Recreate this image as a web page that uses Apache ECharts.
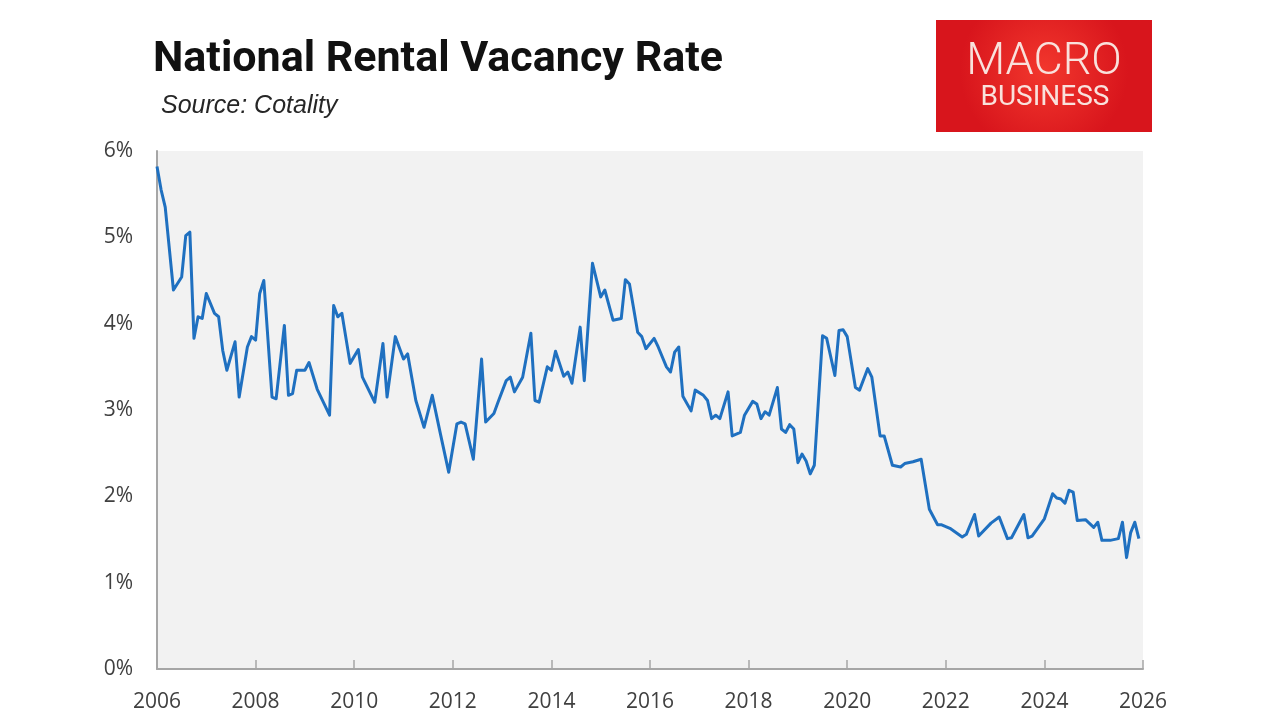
<!DOCTYPE html>
<html>
<head>
<meta charset="utf-8">
<title>National Rental Vacancy Rate</title>
<script src="https://cdn.jsdelivr.net/npm/echarts@6/dist/echarts.min.js"></script>
<style>
  html, body { margin: 0; padding: 0; background: #fff; }
  #chart { width: 1280px; height: 721px; }
</style>
</head>
<body>
<div id="chart"></div>
<script>
// monthly readings (only the turning points of the line)
const months = [
  '2006-01', '2006-02', '2006-03', '2006-05', '2006-07', '2006-08', '2006-09', '2006-10', '2006-11', '2006-12',
  '2007-01', '2007-03', '2007-04', '2007-05', '2007-06', '2007-08', '2007-09', '2007-11', '2007-12',
  '2008-01', '2008-02', '2008-03', '2008-05', '2008-06', '2008-08', '2008-09', '2008-10', '2008-11',
  '2009-01', '2009-02', '2009-04', '2009-07', '2009-08', '2009-09', '2009-10', '2009-12',
  '2010-02', '2010-03', '2010-06', '2010-08', '2010-09', '2010-11',
  '2011-01', '2011-02', '2011-04', '2011-06', '2011-08', '2011-10', '2011-12',
  '2012-02', '2012-03', '2012-04', '2012-06', '2012-08', '2012-09', '2012-11', '2012-12',
  '2013-02', '2013-03', '2013-04', '2013-06', '2013-08', '2013-09', '2013-10', '2013-12',
  '2014-01', '2014-02', '2014-04', '2014-05', '2014-06', '2014-08', '2014-09', '2014-11',
  '2015-01', '2015-02', '2015-04', '2015-06', '2015-07', '2015-08', '2015-10', '2015-11', '2015-12',
  '2016-02', '2016-03', '2016-05', '2016-06', '2016-07', '2016-08', '2016-09', '2016-11', '2016-12',
  '2017-02', '2017-03', '2017-04', '2017-05', '2017-06', '2017-08', '2017-09', '2017-11', '2017-12',
  '2018-02', '2018-03', '2018-04', '2018-05', '2018-06', '2018-08', '2018-09', '2018-10', '2018-11', '2018-12',
  '2019-01', '2019-02', '2019-03', '2019-04', '2019-05', '2019-07', '2019-08', '2019-10', '2019-11', '2019-12',
  '2020-01', '2020-03', '2020-04', '2020-06', '2020-07', '2020-09', '2020-10', '2020-12',
  '2021-02', '2021-03', '2021-05', '2021-07', '2021-09', '2021-11', '2021-12',
  '2022-02', '2022-05', '2022-06', '2022-08', '2022-09', '2022-12',
  '2023-02', '2023-04', '2023-05', '2023-08', '2023-09', '2023-10',
  '2024-01', '2024-03', '2024-04', '2024-05', '2024-06', '2024-07', '2024-08', '2024-09', '2024-11',
  '2025-01', '2025-02', '2025-03', '2025-05', '2025-07', '2025-08', '2025-09', '2025-10', '2025-11', '2025-12'
]

const vacancyRate = [
  5.82, 5.55, 5.35, 4.39, 4.54, 5.02, 5.06, 3.83, 4.08, 4.06,
  4.35, 4.12, 4.08, 3.69, 3.46, 3.79, 3.15, 3.73, 3.85,
  3.81, 4.35, 4.50, 3.15, 3.13, 3.98, 3.17, 3.19, 3.46,
  3.46, 3.55, 3.24, 2.94, 4.21, 4.08, 4.12, 3.54,
  3.70, 3.38, 3.09, 3.77, 3.15, 3.85,
  3.59, 3.65, 3.11, 2.80, 3.17, 2.72, 2.28,
  2.84, 2.86, 2.84, 2.43, 3.59, 2.86, 2.96, 3.09,
  3.34, 3.38, 3.21, 3.38, 3.89, 3.11, 3.09, 3.50,
  3.46, 3.68, 3.39, 3.44, 3.31, 3.96, 3.34, 4.70,
  4.31, 4.39, 4.04, 4.06, 4.51, 4.46, 3.90, 3.85, 3.71,
  3.83, 3.73, 3.50, 3.44, 3.67, 3.73, 3.16, 2.99, 3.23,
  3.17, 3.11, 2.90, 2.94, 2.90, 3.21, 2.70, 2.74, 2.94,
  3.10, 3.07, 2.90, 2.98, 2.94, 3.26, 2.78, 2.74, 2.83, 2.78,
  2.39, 2.49, 2.41, 2.26, 2.36, 3.86, 3.83, 3.40, 3.92, 3.93,
  3.85, 3.26, 3.23, 3.48, 3.38, 2.70, 2.70, 2.36,
  2.34, 2.38, 2.40, 2.43, 1.85, 1.67, 1.67,
  1.63, 1.53, 1.56, 1.79, 1.54, 1.69,
  1.76, 1.51, 1.52, 1.79, 1.52, 1.54,
  1.74, 2.03, 1.98, 1.97, 1.92, 2.07, 2.05, 1.72, 1.73,
  1.64, 1.70, 1.49, 1.49, 1.51, 1.70, 1.29, 1.58, 1.70, 1.51
]

const yearTicks = [2006, 2008, 2010, 2012, 2014, 2016, 2018, 2020, 2022, 2024, 2026]

// 'YYYY-MM' -> decimal year, so the value axis can put a tick every 2 years
function toYear (m) {
  const parts = m.split('-')
  return Number(parts[0]) + (Number(parts[1]) - 1) / 12
}

const seriesData = months.map(function (m, i) {
  return [toYear(m), vacancyRate[i]]
})

const axisGrey = '#a6a6a6'
const labelFont = { color: '#404040', fontSize: 21, fontFamily: 'Open Sans' }

const chart = echarts.init(document.getElementById('chart'), null, { renderer: 'canvas' })

const option = {
  backgroundColor: '#ffffff',
  animation: false,
  title: [
    {
      text: 'National Rental Vacancy Rate',
      left: 148,
      top: 34,
      textStyle: { fontFamily: 'Roboto', fontWeight: 'bold', fontSize: 43, color: '#111111' }
    },
    {
      text: 'Source: Cotality',
      left: 156,
      top: 89,
      textStyle: { fontFamily: 'Liberation Sans', fontStyle: 'italic', fontWeight: 'normal', fontSize: 25, color: '#262626' }
    }
  ],
  graphic: [
    {
      type: 'rect',
      left: 936,
      top: 20,
      shape: { width: 216, height: 112 },
      style: {
        fill: new echarts.graphic.RadialGradient(0.5, 0.45, 0.75, [
          { offset: 0, color: '#f2372d' },
          { offset: 1, color: '#d8151c' }
        ])
      }
    },
    {
      type: 'text',
      x: 1044,
      y: 63,
      style: {
        text: 'MACRO',
        fill: '#f9e1dc',
        font: '300 45px Roboto',
        textAlign: 'center',
        textVerticalAlign: 'middle'
      }
    },
    {
      type: 'text',
      x: 1045,
      y: 98,
      style: {
        text: 'BUSINESS',
        fill: '#f9e1dc',
        font: '400 28px Roboto',
        textAlign: 'center',
        textVerticalAlign: 'middle'
      }
    }
  ],
  grid: {
    left: 157,
    right: 137,
    top: 151,
    bottom: 52,
    show: true,
    backgroundColor: '#f2f2f2',
    borderWidth: 0
  },
  xAxis: {
    type: 'value',
    min: yearTicks[0],
    max: yearTicks[yearTicks.length - 1],
    interval: 2,
    axisLine: { show: true, lineStyle: { color: axisGrey, width: 2 } },
    axisTick: { show: true, inside: true, length: 9, lineStyle: { color: axisGrey, width: 1.5 } },
    axisLabel: Object.assign({ margin: 23, formatter: function (v) { return String(v) } }, labelFont),
    splitLine: { show: false }
  },
  yAxis: {
    type: 'value',
    min: 0,
    max: 6,
    interval: 1,
    axisLine: { show: true, lineStyle: { color: axisGrey, width: 2 } },
    axisTick: { show: false },
    axisLabel: Object.assign({ margin: 24, formatter: '{value}%' }, labelFont),
    splitLine: { show: false }
  },
  series: [
    {
      name: 'Vacancy rate',
      type: 'line',
      data: seriesData,
      showSymbol: false,
      symbol: 'none',
      lineStyle: { color: '#1f70c0', width: 3, join: 'round' },
      itemStyle: { color: '#1f70c0' }
    }
  ]
}

chart.setOption(option)
window.addEventListener('resize', function () { chart.resize() })
</script>
</body>
</html>
